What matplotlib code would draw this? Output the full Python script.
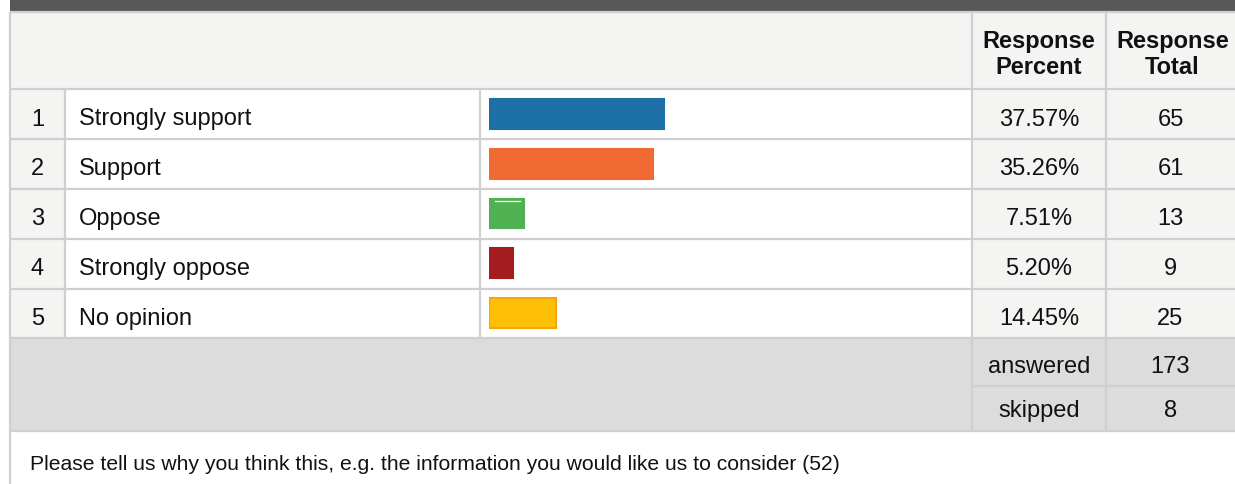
import matplotlib
matplotlib.use("Agg")
import matplotlib.pyplot as plt
from matplotlib.patches import Rectangle

plt.rcParams['font.family'] = ['Liberation Sans', 'DejaVu Sans']

# dane z ankiety
choices = ["Strongly support", "Support", "Oppose", "Strongly oppose", "No opinion"]
percents = [37.57, 35.26, 7.51, 5.20, 14.45]
totals = [65, 61, 13, 9, 25]
answered = 173
skipped = 8
question = "Please tell us why you think this, e.g. the information you would like us to consider (52)"
bar_colors = ["#1c70a6", "#f26a33", "#4fb151", "#a51c20", "#fdc007"]
bar_edges = ["#1c70a6", "#f26a33", "#4fb151", "#a51c20", "#f7a30c"]

W, H = 1235, 485
fig = plt.figure(figsize=(W / 100, H / 100), dpi=100)
ax = fig.add_axes([0, 0, 1, 1])
ax.set_xlim(0, W)
ax.set_ylim(H, 0)
ax.axis("off")

LINE = "#cfcfcf"
LIGHT = "#f4f4f2"
GREY = "#dcdcdc"
TXT = "#111111"
FS = 17

cols = [10, 65, 480, 972, 1106, 1235]
rows = [90, 140, 190, 239.5, 289.5, 339]
pc_x = (cols[3] + cols[4]) / 2
tot_x = (cols[4] + cols[5]) / 2


def rect(x0, y0, x1, y1, fc):
    ax.add_patch(Rectangle((x0, y0), x1 - x0, y1 - y0, facecolor=fc, edgecolor="none", zorder=0))


def txt(x, y, s, ha="center", **kw):
    ax.text(x, y, s, ha=ha, va="baseline", fontsize=kw.pop("fontsize", FS), color=TXT, **kw)


# pasek u gory
rect(10, 0, W, 13, "#575757")
# naglowek
rect(10, 13, W, rows[0], LIGHT)
txt(pc_x, 48, "Response", fontweight="bold")
txt(pc_x, 74, "Percent", fontweight="bold")
txt(tot_x + 2, 48, "Response", fontweight="bold")
txt(tot_x + 2, 74, "Total", fontweight="bold")

# wiersze z odpowiedziami
for i, (lab, p, t) in enumerate(zip(choices, percents, totals)):
    y0, y1 = rows[i], rows[i + 1]
    yb = (y0 + y1) / 2 + 10.5
    rect(cols[0], y0, cols[1], y1, LIGHT)
    rect(cols[1], y0, cols[3], y1, "white")
    rect(cols[3], y0, cols[5], y1, LIGHT)
    txt((cols[0] + cols[1]) / 2, yb, str(i + 1))
    txt(79, yb, lab, ha="left")
    txt(pc_x, yb, f"{p:.2f}%")
    txt(tot_x, yb, str(t))

# answered / skipped
rect(cols[0], rows[-1], W, 432, GREY)
txt(pc_x, 373, "answered")
txt(tot_x, 373, str(answered))
txt(pc_x, 417, "skipped")
txt(tot_x, 417, str(skipped))

# pytanie na dole
txt(30, 470, question, ha="left", fontsize=15.2)

# linie siatki
kw = dict(color=LINE, lw=1.6, zorder=2, solid_capstyle="butt")
for y in [13] + rows + [387, 432]:
    x0 = cols[3] if y == 387 else cols[0]
    ax.plot([x0, W], [y, y], **kw)
ax.plot([cols[0], cols[0]], [13, H], **kw)
for x in cols[1:3]:
    ax.plot([x, x], [rows[0], rows[-1]], **kw)
for x in cols[3:5]:
    ax.plot([x, x], [13, 432], **kw)

# slupki - osobna os: 0..100 %
bax = fig.add_axes([489 / W, (H - rows[-1]) / H, 466 / W, (rows[-1] - rows[0]) / H])
bax.set_xlim(0, 100)
bax.set_ylim(len(choices) - 0.5, -0.5)
bax.axis("off")
bax.patch.set_alpha(0)
bax.barh(range(len(choices)), percents, height=0.6, color=bar_colors,
         edgecolor=bar_edges, linewidth=1.5)
# cienki bialy odblask na zielonym
bax.plot([1.3, percents[2] - 0.9], [2 - 0.26, 2 - 0.26], color="white", lw=0.9)

fig.savefig("out.png", dpi=100)
